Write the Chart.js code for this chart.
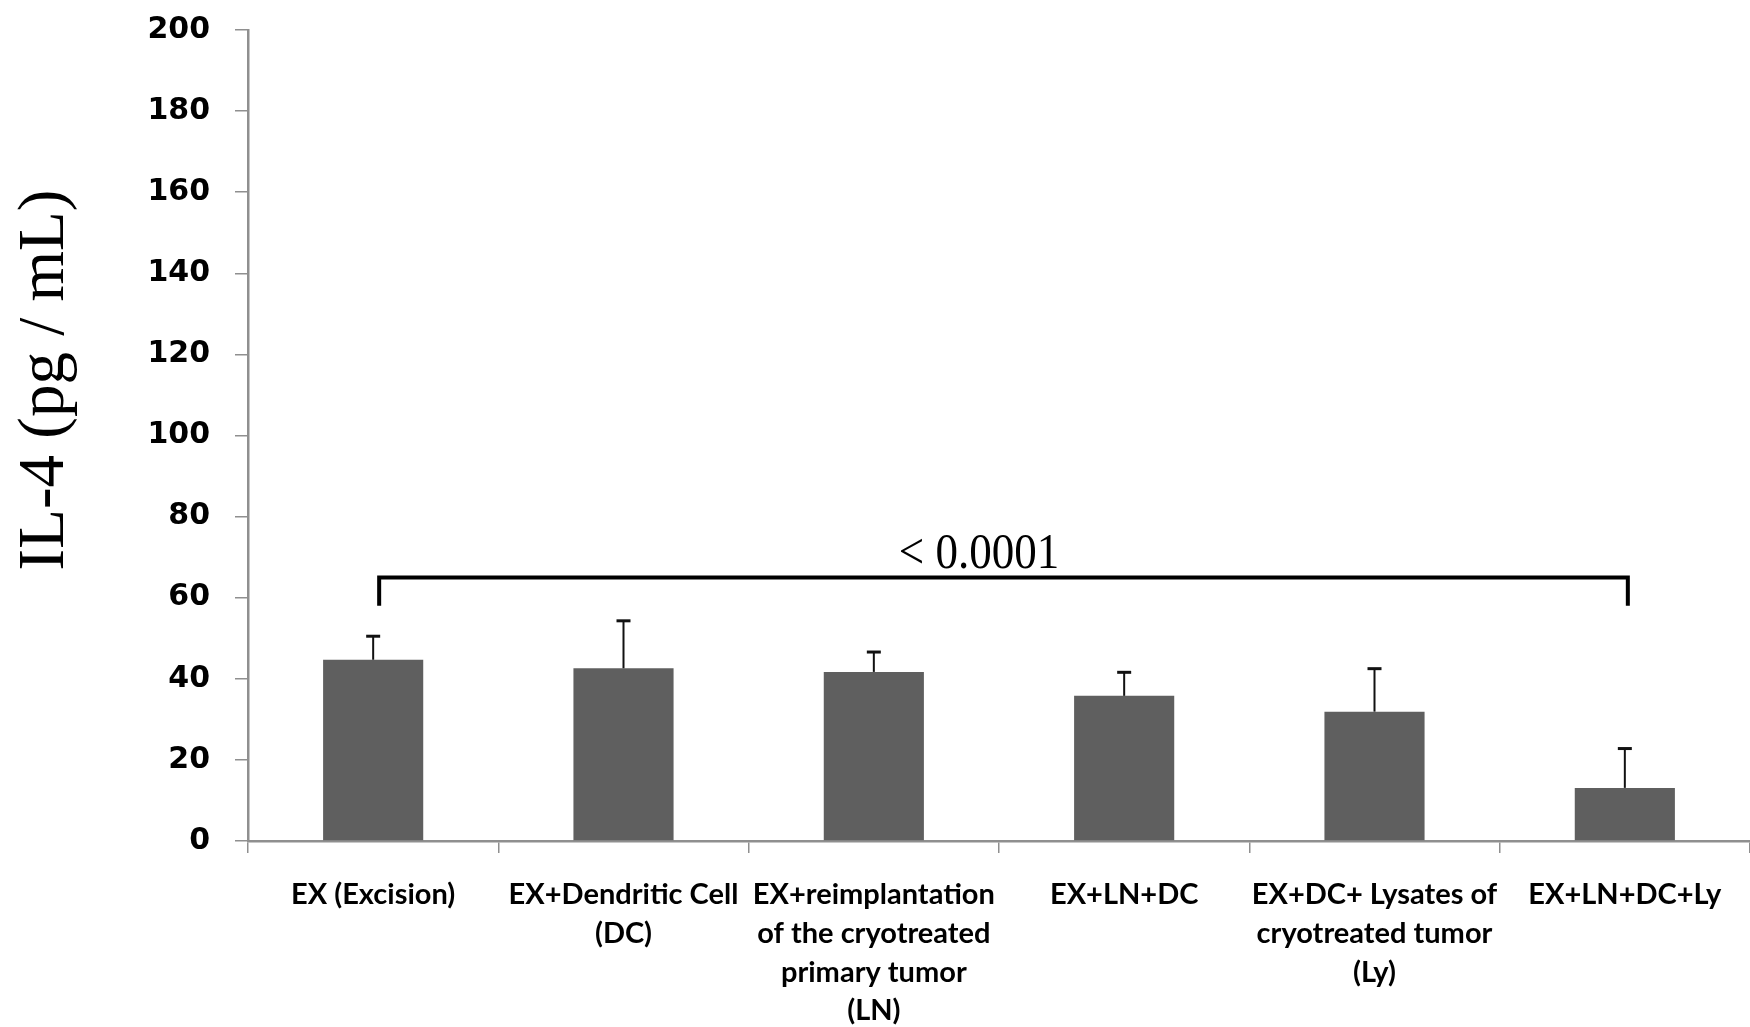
<!DOCTYPE html>
<html>
<head>
<meta charset="utf-8">
<script src="https://cdn.jsdelivr.net/npm/chart.js@4/dist/chart.umd.min.js"></script>
<style>
  body { margin: 0; background: #fff; }
  #wrap { width: 1750px; height: 1027px; }
</style>
</head>
<body>
<div id="wrap"><canvas id="chart" width="1750" height="1027"></canvas></div>
<script>
// groups on the x axis (multi-line labels)
const categories = [
  ['EX (Excision)'],
  ['EX+Dendritic Cell', '(DC)'],
  ['EX+reimplantation', 'of the cryotreated', 'primary tumor', '(LN)'],
  ['EX+LN+DC'],
  ['EX+DC+ Lysates of', 'cryotreated tumor', '(Ly)'],
  ['EX+LN+DC+Ly']
];

// IL-4 means and upper error (pg/mL)
const meanValues = [44.7, 42.6, 41.7, 35.8, 31.9, 13.1];
const errorValues = [5.8, 11.7, 4.9, 5.8, 10.6, 9.7];

const yTicks = [0, 20, 40, 60, 80, 100, 120, 140, 160, 180, 200];

// significance bracket between first and last group
const bracketFrom = 0;
const bracketTo = 5;
const bracketValue = 65;
const bracketEndValue = 58;
const bracketLabel = '< 0.0001';
const bracketLabelPos = 2.42;

const axisTitle = 'IL-4 (pg / mL)';
const axisGray = '#8f8f8f';

/**
 * Error bars, the p-value bracket and the rotated y title
 * are drawn on top of the bars using the chart's own scales.
 */
const overlay = {
  id: 'overlay',
  afterDatasetsDraw: function (chart) {
    let ctx = chart.ctx;
    let x = chart.scales.x;
    let y = chart.scales.y;
    let meta = chart.getDatasetMeta(0);

    ctx.save();
    ctx.strokeStyle = '#111';
    meta.data.forEach(function (bar, i) {
      let top = y.getPixelForValue(meanValues[i] + errorValues[i]);
      ctx.lineWidth = 2;
      ctx.beginPath();
      ctx.moveTo(bar.x, bar.y);
      ctx.lineTo(bar.x, top);
      ctx.stroke();
      ctx.lineWidth = 3;
      ctx.beginPath();
      ctx.moveTo(bar.x - 7, top);
      ctx.lineTo(bar.x + 7, top);
      ctx.stroke();
    });

    // bracket
    let x1 = x.getPixelForValue(bracketFrom) + 6;
    let x2 = x.getPixelForValue(bracketTo) + 3;
    let yb = y.getPixelForValue(bracketValue);
    let ye = y.getPixelForValue(bracketEndValue);
    ctx.strokeStyle = '#000';
    ctx.lineWidth = 4;
    ctx.lineJoin = 'miter';
    ctx.beginPath();
    ctx.moveTo(x1, ye);
    ctx.lineTo(x1, yb);
    ctx.lineTo(x2, yb);
    ctx.lineTo(x2, ye);
    ctx.stroke();

    // p-value text, slightly condensed serif
    ctx.fillStyle = '#000';
    ctx.font = '50px "Liberation Serif", "Times New Roman", serif';
    ctx.textAlign = 'center';
    ctx.textBaseline = 'alphabetic';
    ctx.translate(x.getPixelForValue(bracketLabelPos), yb - 9);
    ctx.scale(0.9, 1);
    ctx.fillText(bracketLabel, 0, 0);
    ctx.restore();

    // y axis title
    ctx.save();
    ctx.fillStyle = '#000';
    ctx.font = '65px "Liberation Serif", "Times New Roman", serif';
    ctx.textAlign = 'center';
    ctx.textBaseline = 'middle';
    ctx.translate(46, 380);
    ctx.rotate(-Math.PI / 2);
    ctx.fillText(axisTitle, 0, 0);
    ctx.restore();
  }
};

let ctx = document.getElementById('chart').getContext('2d');
new Chart(ctx, {
  type: 'bar',
  data: {
    labels: categories,
    datasets: [{
      data: meanValues,
      backgroundColor: '#5f5f5f',
      borderWidth: 0,
      barPercentage: 0.8,
      categoryPercentage: 0.5
    }]
  },
  options: {
    responsive: false,
    animation: false,
    layout: { padding: { top: 30, right: 0, bottom: 0, left: 0 } },
    plugins: {
      legend: { display: false },
      tooltip: { enabled: false }
    },
    scales: {
      x: {
        grid: { drawOnChartArea: false, tickLength: 12, color: axisGray, lineWidth: 1.5 },
        border: { color: axisGray, width: 2.5 },
        ticks: {
          autoSkip: false,
          maxRotation: 0,
          minRotation: 0,
          padding: 22,
          color: '#000',
          font: { family: 'Lato', size: 29, weight: 'bold', lineHeight: 1.34 }
        },
        afterFit: function (scale) { scale.height = 186; }
      },
      y: {
        min: 0,
        max: 200,
        afterBuildTicks: function (scale) {
          scale.ticks = yTicks.map(function (v) { return { value: v }; });
        },
        grid: { drawOnChartArea: false, tickLength: 13, color: axisGray, lineWidth: 1.5 },
        border: { color: axisGray, width: 2.5 },
        ticks: {
          padding: 25,
          color: '#000',
          font: { family: 'DejaVu Sans', size: 30, weight: 'bold' }
        },
        afterFit: function (scale) {
          scale.width = 248;
          scale.paddingTop = 0;
          scale.paddingBottom = 0;
        }
      }
    }
  },
  plugins: [overlay]
});
</script>
</body>
</html>
